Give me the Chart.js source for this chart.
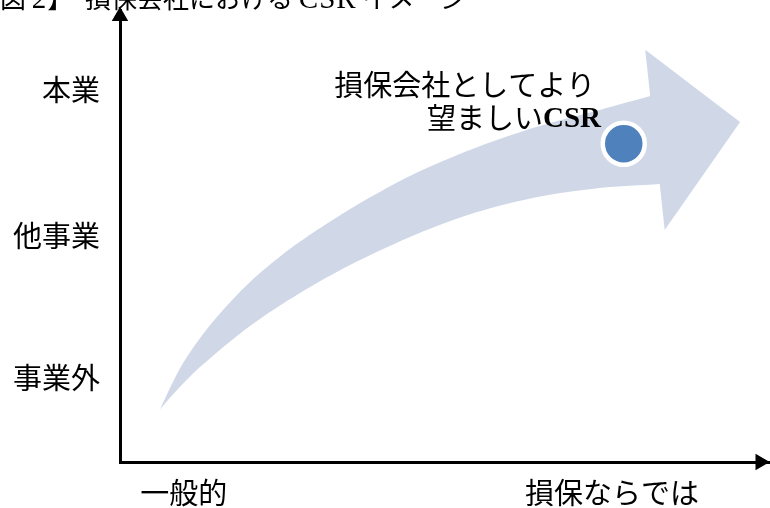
<!DOCTYPE html>
<html lang="ja">
<head>
<meta charset="utf-8">
<title>損保会社における CSR イメージ</title>
<script src="https://cdn.jsdelivr.net/npm/chart.js@4.4.1/dist/chart.umd.min.js"></script>
<style>
  html, body { margin: 0; padding: 0; background: #fff; }
  #wrap { position: relative; width: 770px; height: 508px; overflow: hidden; }
  #chart { position: absolute; left: 0; top: 0; }
  #title {
    position: absolute; left: -26px; top: -16px;
    font: 26px/1 "Noto Sans CJK JP", sans-serif;
    white-space: nowrap; color: #000;
  }
  #title .lat { font-family: "Liberation Serif", serif; font-size: 29px; letter-spacing: 1px; }
</style>
</head>
<body>
<div id="wrap">
  <canvas id="chart" width="770" height="508"></canvas>
  <div id="title">【図 <span class="lat">2</span>】 &nbsp;損保会社における <span class="lat">CSR</span> イメージ</div>
</div>
<script>
// axis categories (both axes run 0..100)
const xTickValues = [9.8, 75.7];
const xTickLabels = ["一般的", "損保ならでは"];
const yTickValues = [18.6, 50, 82.3];
const yTickLabels = ["事業外", "他事業", "本業"];

// curved arrow body: upper edge from the tail to under the head, then back along the lower edge
const bodyX = [5.8, 6.2, 7.7, 9.7, 12.3, 14.9, 20.0, 25.1, 30.3, 35.4, 40.5, 44.6, 53.4, 63.5, 73.8, 81.2, 84.0,
  84.9, 83.1, 73.8, 63.5, 53.4, 44.6, 35.4, 27.7, 20.0, 12.3, 8.5, 6.3];
const bodyY = [11.1, 11.8, 16.4, 21.9, 27.4, 32.1, 39.8, 46.0, 51.3, 56.0, 60.2, 63.3, 68.8, 73.9, 77.9, 80.8, 81.9,
  61.7, 61.5, 60.6, 58.4, 54.6, 49.8, 43.6, 37.4, 30.1, 21.0, 15.5, 11.9];

// arrow head: top corner, tip, bottom corner
const headX = [80.8, 95.4, 83.8];
const headY = [91.2, 75.2, 51.3];

// the target dot
const dotX = [77.5];
const dotY = [70.4];

// annotation next to the dot (right-aligned at the anchor)
const noteText = ["損保会社としてより", "望ましい"];
const noteBold = ["", "CSR"];
const noteX = [73.1, 74.0];
const noteY = [83.4, 76.1];

// axis arrowheads
const axisEndX = [0, 98.5];
const axisEndY = [98.6, 0];
const axisEndRot = [0, 90];

const toPoints = (xs, ys) => xs.map((x, i) => ({ x: x, y: ys[i] }));

const CJK = '"Noto Sans CJK JP", sans-serif';
const ARROW = "#d0d8e8";

const notePlugin = {
  id: "note",
  afterDatasetsDraw(chart) {
    const { ctx, scales } = chart;
    ctx.save();
    ctx.fillStyle = "#000";
    ctx.textBaseline = "middle";
    ctx.textAlign = "right";
    noteText.forEach((txt, i) => {
      let px = scales.x.getPixelForValue(noteX[i]);
      const py = scales.y.getPixelForValue(noteY[i]);
      if (noteBold[i]) {
        ctx.font = 'bold 29px "Liberation Serif", serif';
        ctx.fillText(noteBold[i], px, py + 1);
        px -= ctx.measureText(noteBold[i]).width;
      }
      ctx.font = "29px " + CJK;
      ctx.fillText(txt, px, py);
    });
    ctx.restore();
  },
};

const tickFont = { family: CJK, size: 29, lineHeight: 1.2 };

new Chart(document.getElementById("chart"), {
  type: "scatter",
  data: {
    datasets: [
      {
        data: toPoints(bodyX, bodyY),
        showLine: true,
        tension: 0.3,
        fill: "shape",
        backgroundColor: ARROW,
        borderWidth: 0,
        pointRadius: 0,
        order: 4,
      },
      {
        data: toPoints(headX, headY),
        showLine: true,
        fill: "shape",
        backgroundColor: ARROW,
        borderWidth: 0,
        pointRadius: 0,
        order: 3,
      },
      {
        data: toPoints(dotX, dotY),
        pointRadius: 21,
        backgroundColor: "#4f81bd",
        borderColor: "#ffffff",
        borderWidth: 4.5,
        order: 2,
      },
      {
        data: toPoints(axisEndX, axisEndY),
        pointStyle: "triangle",
        rotation: axisEndRot,
        pointRadius: 9.5,
        backgroundColor: "#000",
        borderColor: "#000",
        borderWidth: 0,
        clip: false,
        order: 1,
      },
    ],
  },
  options: {
    responsive: false,
    animation: false,
    events: [],
    layout: { autoPadding: false, padding: { top: 10, right: 0, bottom: 0, left: 0 } },
    plugins: {
      legend: { display: false },
      tooltip: { enabled: false },
    },
    scales: {
      x: {
        type: "linear",
        position: "bottom",
        min: 0,
        max: 100,
        grid: { color: "rgba(0,0,0,0)", drawTicks: false, drawOnChartArea: false },
        border: { color: "#000", width: 3 },
        ticks: {
          color: "#000",
          font: tickFont,
          padding: 14,
          maxRotation: 0,
          callback: (v, i) => xTickLabels[i],
        },
        afterBuildTicks: (s) => { s.ticks = xTickValues.map((v) => ({ value: v })); },
        afterFit: (s) => { s.height = 46; s.paddingLeft = 0; s.paddingRight = 0; },
      },
      y: {
        type: "linear",
        position: "left",
        min: 0,
        max: 100,
        grid: { color: "rgba(0,0,0,0)", drawTicks: false, drawOnChartArea: false },
        border: { color: "#000", width: 3 },
        ticks: {
          color: "#000",
          font: tickFont,
          padding: 20,
          callback: (v, i) => yTickLabels[i],
        },
        afterBuildTicks: (s) => { s.ticks = yTickValues.map((v) => ({ value: v })); },
        afterFit: (s) => { s.width = 120; s.paddingTop = 0; s.paddingBottom = 0; },
      },
    },
  },
  plugins: [notePlugin],
});
</script>
</body>
</html>
